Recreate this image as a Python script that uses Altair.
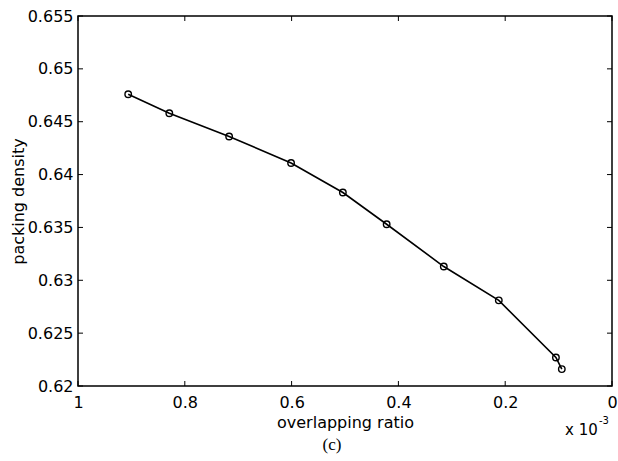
import altair as alt
import pandas as pd

# Data (overlapping ratio in units of 1e-3)
overlap = [0.906, 0.829, 0.717, 0.601, 0.504, 0.422, 0.315, 0.212, 0.105, 0.094]
density = [0.6476, 0.6458, 0.6436, 0.6411, 0.6383, 0.6353, 0.6313, 0.6281, 0.6227, 0.6216]
x_ticks = [0, 0.2, 0.4, 0.6, 0.8, 1.0]
y_ticks = [0.62, 0.625, 0.63, 0.635, 0.64, 0.645, 0.65, 0.655]

df = pd.DataFrame({"x": overlap, "y": density})
xt = pd.DataFrame({"v": x_ticks})
yt = pd.DataFrame({"v": y_ticks})

W, H = 534, 370
FONT = "DejaVu Sans"
FS = 16

xscale = alt.Scale(domain=[0, 1], reverse=True, nice=False, zero=False)
yscale = alt.Scale(domain=[0.62, 0.655], nice=False, zero=False)

xaxis = alt.Axis(values=x_ticks, ticks=False, domain=False, grid=False,
                 labelFont=FONT, labelFontSize=FS, labelColor="black",
                 labelPadding=8, labelFlush=False, labelOverlap=False,
                 labelExpr="datum.value == 1 ? '1' : datum.value == 0 ? '0' : format(datum.value, '.1f')",
                 title="overlapping ratio", titleFont=FONT, titleFontSize=FS,
                 titleFontWeight="normal", titleColor="black", titlePadding=4)
yaxis = alt.Axis(values=y_ticks, ticks=False, domain=False, grid=False,
                 labelFont=FONT, labelFontSize=FS, labelColor="black",
                 labelPadding=5, labelFlush=False, labelOverlap=False,
                 labelExpr="format(datum.value, '.3~f')",
                 title="packing density", titleFont=FONT, titleFontSize=FS,
                 titleFontWeight="normal", titleColor="black", titlePadding=1)

base = alt.Chart(df)
line = base.mark_line(color="black", strokeWidth=1.6).encode(
    x=alt.X("x:Q", scale=xscale, axis=xaxis),
    y=alt.Y("y:Q", scale=yscale, axis=yaxis),
)
pts = base.mark_point(shape="circle", filled=False, color="black", size=42, strokeWidth=1.4, opacity=1).encode(
    x=alt.X("x:Q", scale=xscale),
    y=alt.Y("y:Q", scale=yscale),
)

TL = 5
xb = alt.Chart(xt).mark_rule(color="black", strokeWidth=1).encode(
    x=alt.X("v:Q", scale=xscale), y=alt.value(H), y2=alt.value(H - TL))
xtp = alt.Chart(xt).mark_rule(color="black", strokeWidth=1).encode(
    x=alt.X("v:Q", scale=xscale), y=alt.value(0), y2=alt.value(TL))
yl = alt.Chart(yt).mark_rule(color="black", strokeWidth=1).encode(
    y=alt.Y("v:Q", scale=yscale), x=alt.value(0), x2=alt.value(TL))
yr = alt.Chart(yt).mark_rule(color="black", strokeWidth=1).encode(
    y=alt.Y("v:Q", scale=yscale), x=alt.value(W), x2=alt.value(W - TL))

exp_t = alt.Chart(pd.DataFrame({"t": ["x 10"]})).mark_text(font=FONT, fontSize=15, color="black", align="left", baseline="alphabetic").encode(
    x=alt.value(487), y=alt.value(419), text="t:N")
sup = alt.Chart(pd.DataFrame({"t": ["-3"]})).mark_text(font=FONT, fontSize=10, color="black", align="left", baseline="alphabetic").encode(
    x=alt.value(521), y=alt.value(408), text="t:N")
cap = alt.Chart(pd.DataFrame({"t": ["(c)"]})).mark_text(font="Liberation Serif", fontSize=17, color="black", align="center", baseline="middle").encode(
    x=alt.value(254), y=alt.value(429), text="t:N")

chart = alt.layer(line, pts, xb, xtp, yl, yr, exp_t, sup, cap).properties(
    width=W, height=H,
    autosize=alt.AutoSizeParams(type="none"),
    padding={"left": 78, "top": 16, "right": 6, "bottom": 75},
).configure(
    background="white",
    view=alt.ViewConfig(stroke="black", strokeWidth=1.5),
)

chart.save("out.html", embed_options={"renderer": "svg", "actions": False})
